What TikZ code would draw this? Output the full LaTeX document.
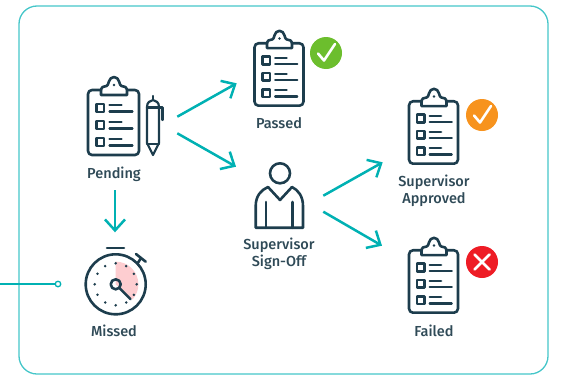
\documentclass[tikz,border=0pt]{standalone}
\usepackage{fontspec}
\setmainfont{Fira Sans Medium}
\usetikzlibrary{arrows.meta}
\definecolor{inkdark}{HTML}{1D3D4D}
\definecolor{inklabel}{HTML}{2F4A57}
\definecolor{tealarrow}{HTML}{00B1B3}
\definecolor{tealframe}{HTML}{45C6C9}
\definecolor{okgreen}{HTML}{6CBE2D}
\definecolor{okorange}{HTML}{F7931E}
\definecolor{badred}{HTML}{EE1C25}
\definecolor{wedgepink}{HTML}{FDCDD0}
\tikzset{
	icon/.style={draw=inkdark,line width=2.6pt,line join=round,line cap=round},
	flow/.style={draw=tealarrow,line width=2.5pt,-{Straight Barb[length=11pt,width=20pt,line width=2.5pt]}},
	lbl/.style={text=inklabel,font=\fontsize{14.5}{16.5}\selectfont,align=center,inner sep=0pt},
	badge/.style={circle,minimum size=32pt,inner sep=0pt},
	clipboard/.pic={
		\draw[icon,rounded corners=4pt] (-13,-32) -- (-25.5,-32) -- (-25.5,33) -- (25.5,33) -- (25.5,-32) -- (14,-32);
		\draw[icon] (-12.5,-27) -- (13.5,-27) -- (13.5,-31) .. controls (13.5,-35) and (11,-36) .. (8,-36) .. controls (5.5,-36) and (6.5,-45) .. (0.5,-45) .. controls (-5.5,-45) and (-4.5,-36) .. (-7,-36) .. controls (-10,-36) and (-12.5,-35) .. (-12.5,-31) -- cycle;
		\fill[inkdark] (0.5,-37) circle (1.4);
		\foreach \y in {-14,3,20} {
			\draw[icon,line cap=butt] (-17,\y-4) rectangle (-9.5,\y+4);
			\draw[icon,line width=2.2pt] (-4,\y-3) -- (8,\y-3);
			\draw[icon,line width=2.2pt] (-4,\y+3.5) -- (19,\y+3.5);
		}
	}
}
\begin{document}
\begin{tikzpicture}[x=1pt,y=-1pt]
	\useasboundingbox (0,0) rectangle (585,375);
	\draw[tealframe,line width=1.3pt,rounded corners=18pt] (19,6) rectangle (548,374);

	% clipboards
	\pic at (113.5,122) {clipboard};
	\pic[scale=0.96] at (279,74) {clipboard};
	\pic[scale=0.96] at (433.5,132) {clipboard};
	\pic[scale=0.96] at (433.5,281) {clipboard};

	% pen
	\draw[icon,line width=2.2pt] (147,143) -- (147,107) .. controls (147,102) and (150,101) .. (153,100) .. controls (156,101) and (159,102) .. (159,107) -- (159,143) -- (153,155) -- cycle;
	\draw[icon,line width=2.2pt] (153,96) -- (153,100);
	\draw[icon,line width=2.2pt] (147,107.5) -- (162.5,107.5) -- (162.5,120);
	\draw[icon,line width=2.2pt] (147,144) -- (159,144);

	% stopwatch
	\coordinate (watch) at (115.7,284.3);
	\fill[wedgepink] (watch) -- ++(0,-22.7) arc (-90:42:22.7) -- cycle;
	\draw[icon] (watch) circle (30);
	\draw[icon] (107,248) -- (124,248);
	\draw[icon] (136,254) -- (145.7,261.7);
	\draw[icon] (137.5,263.5) -- (141,258);
	\foreach \a in {0,30,...,330}
		\fill[inkdark] (watch) ++(\a:21) circle (1.4);
	\draw[icon] (watch) ++(45:5) -- ++(45:16);
	\draw[icon] (watch) circle (5);

	% person
	\draw[icon] (280,173.3) circle (10);
	\draw[icon] (255.7,227.7) -- (255.7,206) .. controls (255.7,196) and (261,190) .. (268,187) -- (280,200) -- (292,187) .. controls (298,190) and (303,196) .. (303,206) -- (303,227.7) -- cycle;
	\draw[icon] (266,202) -- (266,227.7);
	\draw[icon] (292.5,202) -- (292.5,227.7);

	% badges
	\node[badge,fill=okgreen] (passedbadge) at (326,53) {};
	\draw[white,line width=2.6pt,line cap=round,line join=round] (318,53.5) -- (324,60.5) -- (335,44);
	\node[badge,fill=okorange] (approvedbadge) at (482,115) {};
	\draw[white,line width=2.6pt,line cap=round,line join=round] (474,115.5) -- (480,122.5) -- (491,106);
	\node[badge,fill=badred] (failedbadge) at (482,262) {};
	\draw[white,line width=2.8pt,line cap=round] (474.5,254.5) -- (489.5,269.5) (489.5,254.5) -- (474.5,269.5);

	% labels
	\node[lbl] (pending) at (114,174) {Pending};
	\node[lbl] (missed) at (114,331) {Missed};
	\node[lbl] (passed) at (279,123) {Passed};
	\node[lbl] (signoff) at (279,254) {Supervisor\\Sign-Off};
	\node[lbl] (approved) at (434,191) {Supervisor\\Approved};
	\node[lbl] (failed) at (434,331) {Failed};

	% connectors
	\coordinate (penup) at (177.3,116.7);
	\coordinate (pendown) at (177.3,133.3);
	\coordinate (passedin) at (236.7,83.3);
	\coordinate (signin) at (236,166.7);
	\coordinate (pendout) at (115,190);
	\coordinate (missedin) at (115,232.3);
	\coordinate (signup) at (323.3,195.7);
	\coordinate (signdown) at (323.3,211.7);
	\coordinate (approvedin) at (382.7,162.3);
	\coordinate (failedin) at (382,245.7);
	\draw[flow] (penup) -- (passedin);
	\draw[flow] (pendown) -- (signin);
	\draw[flow] (pendout) -- (missedin);
	\draw[flow] (signup) -- (approvedin);
	\draw[flow] (signdown) -- (failedin);

	% callout
	\coordinate (calloutstart) at (0,284);
	\node[circle,draw=tealarrow,line width=1.3pt,fill=white,minimum size=5.5pt,inner sep=0pt] (calloutdot) at (58,284) {};
	\draw[tealarrow,line width=1.3pt] (calloutstart) -- (calloutdot);
\end{tikzpicture}
\end{document}
